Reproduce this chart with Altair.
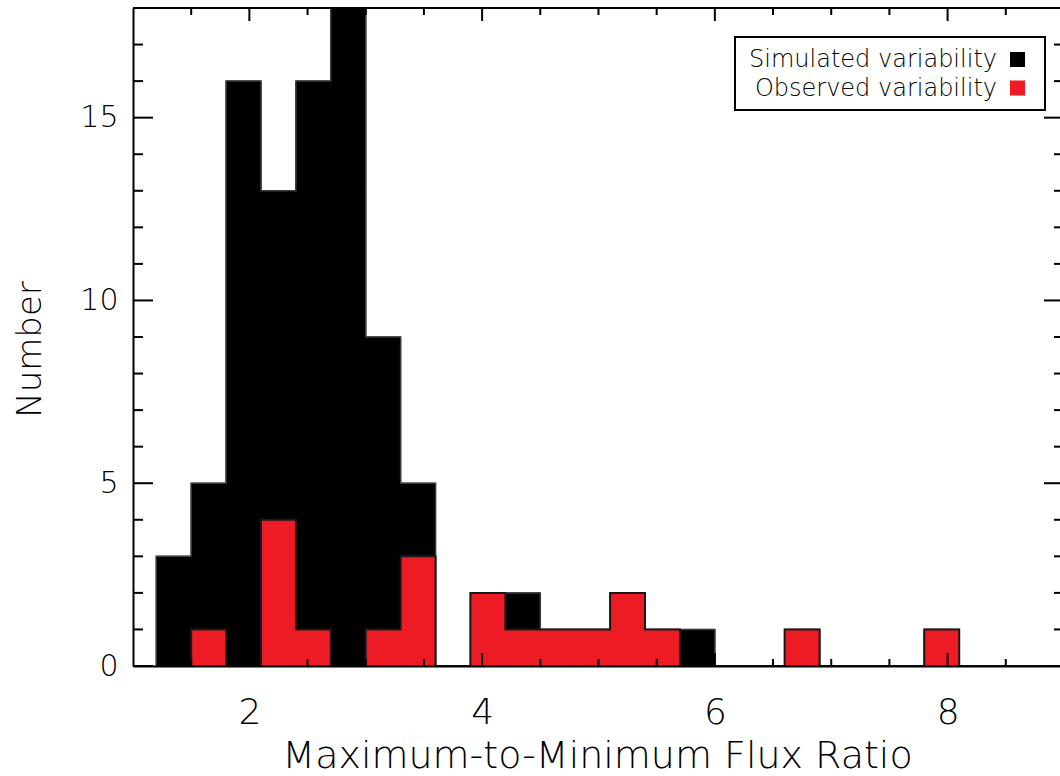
import altair as alt
import pandas as pd

# Histogram binning (bin width 0.3 in flux ratio, first bin starts at 1.2)
bin_start = 1.2
bin_width = 0.3
simulated_counts = [3, 5, 16, 13, 16, 18, 9, 5, 0, 2, 2, 1, 1, 2, 1, 1,
                    0, 0, 1, 0, 0, 0, 1, 0, 0, 0]
observed_counts = [0, 1, 0, 4, 1, 0, 1, 3, 0, 2, 1, 1, 1, 2, 1, 0,
                   0, 0, 1, 0, 0, 0, 1, 0, 0, 0]

# Axis labels and tick marks
x_label_values = [2, 4, 6, 8]
x_minor_values = [1.5, 2.5, 3, 3.5, 4.5, 5, 5.5, 6.5, 7, 7.5, 8.5]
y_label_values = [0, 5, 10, 15]
y_minor_values = [1, 2, 3, 4, 6, 7, 8, 9, 11, 12, 13, 14, 16, 17]

legend_labels = ["Simulated variability", "Observed variability"]
legend_colors = ["#000000", "#ED1C24"]

FONT = "DejaVu Sans"
W, H = 927, 658          # visible plot area
FULL_W = 931             # plot frame extends slightly past the page edge


def bin_frame(counts):
    """One row per non-empty bin: left edge, right edge, count."""
    rows = []
    for k, c in enumerate(counts):
        if c > 0:
            lo = round(bin_start + k * bin_width, 3)
            rows.append({"lo": lo, "hi": round(lo + bin_width, 3), "n": c})
    return pd.DataFrame(rows)


def step_frame(counts):
    """Points for a step outline: rise at the first edge, drop at the last."""
    rows = [{"i": 0, "x": bin_start, "n": 0}]
    for k, c in enumerate(counts):
        rows.append({"i": k + 1, "x": round(bin_start + k * bin_width, 3), "n": c})
    rows.append({"i": len(counts) + 1,
                 "x": round(bin_start + len(counts) * bin_width, 3), "n": 0})
    return pd.DataFrame(rows)


x_scale = alt.Scale(domain=[1, 8.966], nice=False, zero=False)
y_scale = alt.Scale(domain=[0, 18], nice=False, zero=False)

x_axis = alt.Axis(
    values=x_label_values, grid=False, ticks=False, tickSize=0,
    domain=True, domainColor="black", domainWidth=2,
    labelFont=FONT, labelFontSize=36, labelFontWeight=200, labelColor="black",
    labelPadding=29, labelFlush=False,
    title="Maximum-to-Minimum Flux Ratio", titleFont=FONT, titleFontSize=38,
    titleFontWeight=200, titleColor="black", titleX=464, titleY=101,
    titleBaseline="alphabetic", titleAlign="center", zindex=3,
)
y_axis = alt.Axis(
    values=y_label_values, grid=False, ticks=False, tickSize=0,
    domain=True, domainColor="black", domainWidth=2,
    labelFont=FONT, labelFontSize=30, labelFontWeight=200, labelColor="black",
    labelPadding=15, labelFlush=False,
    title="Number", titleFont=FONT, titleFontSize=34, titleFontWeight=200,
    titleColor="black", titleAngle=270, titleX=-93, titleY=341,
    titleBaseline="alphabetic", titleAlign="center", zindex=3,
)


def hist_layers(counts, fill, edge, edge_width):
    # filled bins; a thin stroke in the fill colour hides seams between bins
    bars = alt.Chart(bin_frame(counts)).mark_rect(
        color=fill, stroke=fill, strokeWidth=1, opacity=1).encode(
        x=alt.X("lo:Q", scale=x_scale, axis=x_axis),
        x2="hi:Q",
        y=alt.Y("n:Q", scale=y_scale, axis=y_axis),
        y2=alt.datum(0),
    )
    # step outline of the histogram
    line = alt.Chart(step_frame(counts)).mark_line(
        interpolate="step-after", color=edge, strokeWidth=edge_width).encode(
        x=alt.X("x:Q", scale=x_scale, axis=x_axis),
        y=alt.Y("n:Q", scale=y_scale, axis=y_axis),
        order=alt.Order("i:Q"),
    )
    return [bars, line]


def x_ticks(values, length):
    df = pd.DataFrame({"v": values})
    enc_x = alt.X("v:Q", scale=x_scale, axis=x_axis)
    bottom = alt.Chart(df).mark_rule(color="black", strokeWidth=2).encode(
        x=enc_x, y=alt.value(H), y2=alt.value(H - length))
    top = alt.Chart(df).mark_rule(color="black", strokeWidth=2).encode(
        x=enc_x, y=alt.value(0), y2=alt.value(length))
    return [bottom, top]


def y_ticks(values, length):
    df = pd.DataFrame({"v": values})
    enc_y = alt.Y("v:Q", scale=y_scale, axis=y_axis)
    left = alt.Chart(df).mark_rule(color="black", strokeWidth=2).encode(
        y=enc_y, x=alt.value(0), x2=alt.value(length))
    right = alt.Chart(df).mark_rule(color="black", strokeWidth=2).encode(
        y=enc_y, x=alt.value(FULL_W - length), x2=alt.value(FULL_W))
    return [left, right]


frame_top = alt.Chart(pd.DataFrame({"v": [0]})).mark_rule(
    color="black", strokeWidth=2).encode(
    x=alt.value(0), x2=alt.value(FULL_W), y=alt.value(0))

# Legend box with labels to the left of the swatches
legend_box = alt.Chart(pd.DataFrame({"v": [0]})).mark_rect(
    fill="white", stroke="black", strokeWidth=2).encode(
    x=alt.value(602), x2=alt.value(912), y=alt.value(29), y2=alt.value(102))

legend_layers = [legend_box]
for k, (label, col) in enumerate(zip(legend_labels, legend_colors)):
    row = pd.DataFrame({"label": [label]})
    legend_layers.append(
        alt.Chart(row).mark_text(align="right", baseline="alphabetic",
                                 font=FONT, fontSize=24, fontWeight=200,
                                 color="black").encode(
            text="label:N", x=alt.value(864), y=alt.value(59 + 28.5 * k)))
    legend_layers.append(
        alt.Chart(row).mark_square(size=225, color=col, opacity=1).encode(
            x=alt.value(884.5), y=alt.value(51.5 + 28.5 * k)))

layers = (
    hist_layers(simulated_counts, "#000000", "#3a3a3a", 1.5)
    + hist_layers(observed_counts, "#ED1C24", "#1a1a1a", 2)
    + x_ticks(x_label_values, 13) + x_ticks(x_minor_values, 7)
    + y_ticks(y_label_values, 20) + y_ticks(y_minor_values, 10)
    + [frame_top]
    + legend_layers
)

chart = alt.layer(*layers).properties(
    width=W, height=H,
    padding={"left": 133, "top": 8, "right": 0, "bottom": 110},
    autosize=alt.AutoSizeParams(type="none"),
    background="white",
).configure_view(stroke=None)

chart.save("out.html", embed_options={"renderer": "svg", "actions": False})
